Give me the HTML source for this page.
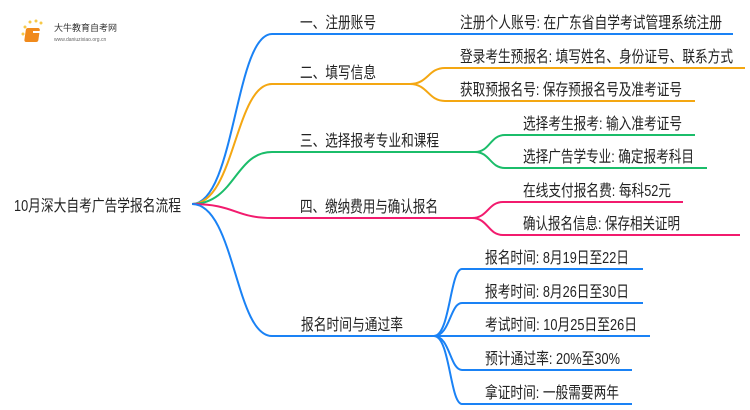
<!DOCTYPE html>
<html><head><meta charset="utf-8"><style>
html,body{margin:0;padding:0;background:#fff;}
svg{display:block}
text{font-family:"Liberation Sans","Noto Sans CJK SC",sans-serif;font-size:16px;fill:#222;}
</style></head><body>
<svg width="750" height="410" viewBox="0 0 750 410" xmlns="http://www.w3.org/2000/svg">
<g fill="none" stroke-width="2">
<path d="M192 204 C235 204 235 34 272 34 L733 34" stroke="#1a82f5"/>
<path d="M192 204 C235 204 235 84 272 84 L410 84" stroke="#f4a712"/>
<path d="M410 84 C428 84 428 68 445 68 L745 68" stroke="#f4a712"/>
<path d="M410 84 C428 84 428 101 445 101 L695 101" stroke="#f4a712"/>
<path d="M192 204 C235 204 235 152 272 152 L475 152" stroke="#1bbd6a"/>
<path d="M475 152 C490 152 490 135 505 135 L695 135" stroke="#1bbd6a"/>
<path d="M475 152 C490 152 490 168 505 168 L707 168" stroke="#1bbd6a"/>
<path d="M192 204 C235 204 235 218 272 218 L472 218" stroke="#f21b6e"/>
<path d="M472 218 C488 218 488 202 503 202 L683 202" stroke="#f21b6e"/>
<path d="M472 218 C488 218 488 235 503 235 L740 235" stroke="#f21b6e"/>
<path d="M192 204 C235 204 235 336 272 336 L434 336" stroke="#1a82f5"/>
<path d="M434 336 C450 336 450 269 462 269 L643 269" stroke="#1a82f5"/>
<path d="M434 336 C450 336 450 303 462 303 L643 303" stroke="#1a82f5"/>
<path d="M434 336 L650 336" stroke="#1a82f5"/>
<path d="M434 336 C450 336 450 370 462 370 L632 370" stroke="#1a82f5"/>
<path d="M434 336 C450 336 450 404 462 404 L632 404" stroke="#1a82f5"/>
</g>
<g>
<text x="14" y="211" textLength="167" lengthAdjust="spacingAndGlyphs">10月深大自考广告学报名流程</text>
<text x="300" y="28" textLength="76" lengthAdjust="spacingAndGlyphs">一、注册账号</text>
<text x="300" y="78" textLength="76" lengthAdjust="spacingAndGlyphs">二、填写信息</text>
<text x="300" y="146" textLength="139" lengthAdjust="spacingAndGlyphs">三、选择报考专业和课程</text>
<text x="300" y="212" textLength="138" lengthAdjust="spacingAndGlyphs">四、缴纳费用与确认报名</text>
<text x="301" y="330" textLength="102" lengthAdjust="spacingAndGlyphs">报名时间与通过率</text>
<text x="460" y="28" textLength="262" lengthAdjust="spacingAndGlyphs">注册个人账号: 在广东省自学考试管理系统注册</text>
<text x="460" y="62" textLength="273" lengthAdjust="spacingAndGlyphs">登录考生预报名: 填写姓名、身份证号、联系方式</text>
<text x="460" y="95" textLength="222" lengthAdjust="spacingAndGlyphs">获取预报名号: 保存预报名号及准考证号</text>
<text x="523" y="129" textLength="159" lengthAdjust="spacingAndGlyphs">选择考生报考: 输入准考证号</text>
<text x="523" y="162" textLength="171" lengthAdjust="spacingAndGlyphs">选择广告学专业: 确定报考科目</text>
<text x="523" y="196" textLength="148" lengthAdjust="spacingAndGlyphs">在线支付报名费: 每科52元</text>
<text x="523" y="229" textLength="157" lengthAdjust="spacingAndGlyphs">确认报名信息: 保存相关证明</text>
<text x="485" y="263" textLength="144" lengthAdjust="spacingAndGlyphs">报名时间: 8月19日至22日</text>
<text x="485" y="297" textLength="144" lengthAdjust="spacingAndGlyphs">报考时间: 8月26日至30日</text>
<text x="485" y="330" textLength="152" lengthAdjust="spacingAndGlyphs">考试时间: 10月25日至26日</text>
<text x="485" y="364" textLength="135" lengthAdjust="spacingAndGlyphs">预计通过率: 20%至30%</text>
<text x="485" y="398" textLength="134" lengthAdjust="spacingAndGlyphs">拿证时间: 一般需要两年</text>
</g>
<g>
<circle cx="25" cy="27" r="1.5" fill="#f7c948"/><circle cx="30" cy="22" r="1.5" fill="#f7c948"/><circle cx="36" cy="21" r="1.5" fill="#f7c948"/><circle cx="41" cy="23" r="1.5" fill="#f7c948"/><circle cx="23" cy="34" r="1.5" fill="#f7c948"/>
<rect x="30" y="28" width="14" height="14" rx="2" fill="#f08a1c" transform="skewX(-8)"/>
<rect x="33" y="31" width="9" height="2" fill="#fff"/>
<text x="54" y="31" style="font-size:9px;fill:#333">大牛教育自考网</text>
<text x="54" y="41" style="font-size:5px;fill:#666">www.daniuzixiao.org.cn</text>
</g>
</svg>
</body></html>
